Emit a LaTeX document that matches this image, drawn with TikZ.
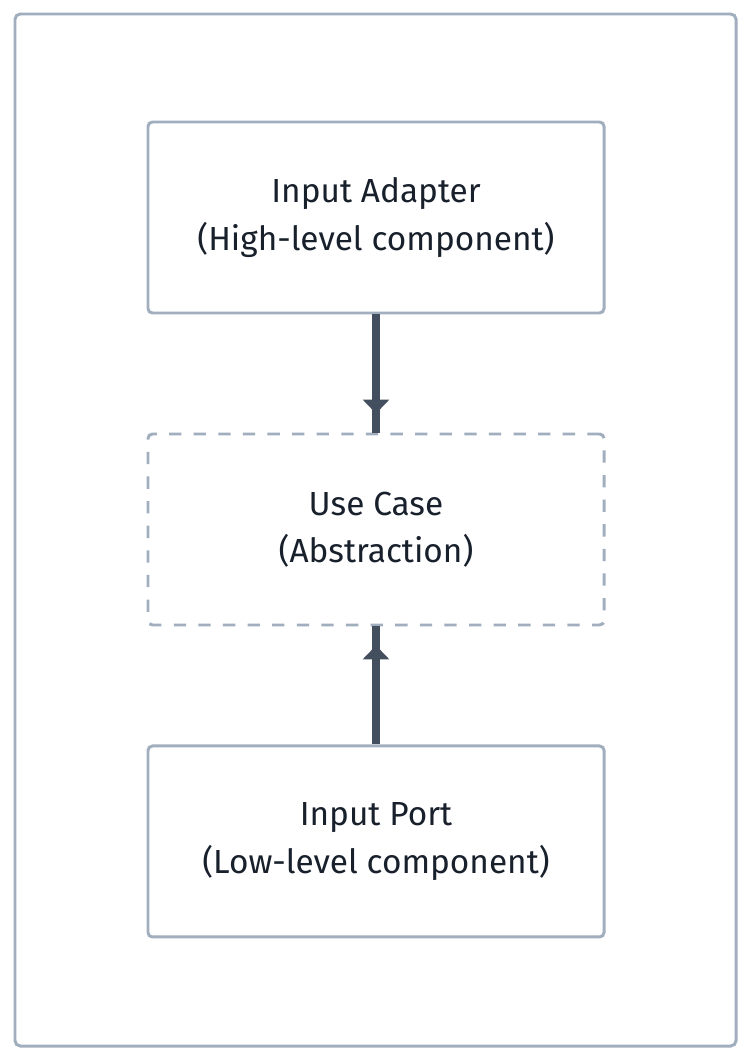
\documentclass[tikz,border=0pt]{standalone}
\usepackage{fontspec}
\setmainfont{Fira Sans}
\usetikzlibrary{arrows.meta, positioning, decorations.markings}
\usepackage{xcolor}
\definecolor{FrameGrey}{RGB}{160,174,190}
\definecolor{Slate}{RGB}{67,78,94}
\definecolor{InkDark}{RGB}{24,32,44}

\begin{document}
\begin{tikzpicture}[
          layer/.style={rectangle, draw=FrameGrey, line width=1.7pt, fill=white, minimum width=9.12cm, minimum height=3.82cm, rounded corners=2.5pt, align=center, text=InkDark, font=\fontsize{19}{27}\selectfont},
          abstract/.style={layer, dash pattern=on 7pt off 7pt},
          flow/.style={line width=4.5pt, draw=Slate, postaction={decorate}, decoration={markings, mark=at position -0.38cm with {\arrow[Slate]{Triangle[width=0.52cm, length=0.28cm]}}}}
        ]
          \useasboundingbox (0,0) rectangle (15,-21.04);
          \draw[FrameGrey, line width=1.7pt, rounded corners=3pt] (0.3,-0.28) rectangle (14.72,-20.92);

          \node (adapter) [layer] at (7.52,-4.35) {Input Adapter\\(High-level component)};
          \node (usecase) [abstract, below=2.36cm of adapter] {Use Case\\(Abstraction)};
          \node (port) [layer, below=2.36cm of usecase] {Input Port\\(Low-level component)};

          \draw [flow] (adapter) -- (usecase);
          \draw [flow] (port) -- (usecase);
        \end{tikzpicture}
\end{document}
